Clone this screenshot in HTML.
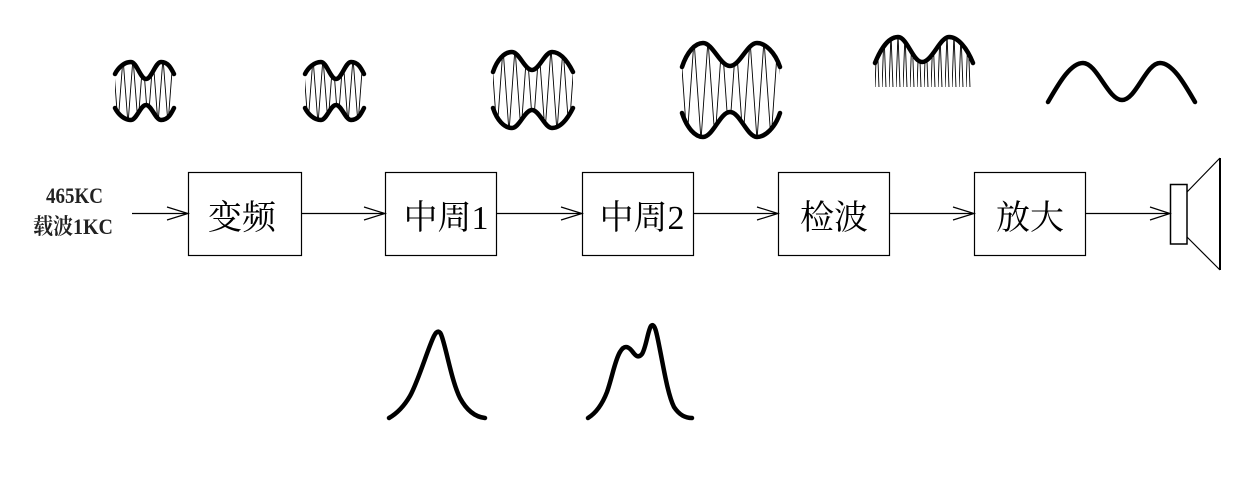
<!DOCTYPE html>
<html><head><meta charset="utf-8"><style>
html,body{margin:0;padding:0;background:#fff;}
svg{display:block;}
</style></head><body>
<svg width="1258" height="482" viewBox="0 0 1258 482" xmlns="http://www.w3.org/2000/svg">
<defs>
<pattern id="p1" patternUnits="userSpaceOnUse" x="113" y="58" width="10" height="66">
<path d="M0,0 L5,66 L10,0" fill="none" stroke="#000" stroke-width="0.9"/>
</pattern>
<pattern id="p3" patternUnits="userSpaceOnUse" x="491" y="48" width="12" height="84">
<path d="M0,0 L6,84 L12,0" fill="none" stroke="#000" stroke-width="0.9"/>
</pattern>
<pattern id="p4" patternUnits="userSpaceOnUse" x="680" y="40" width="14" height="100">
<path d="M0,0 L7,100 L14,0" fill="none" stroke="#000" stroke-width="0.9"/>
</pattern>
<pattern id="p5" patternUnits="userSpaceOnUse" x="875" y="34" width="7" height="54">
<path d="M0,54 L2,0 L4,54" fill="none" stroke="#000" stroke-width="0.9"/>
</pattern>
<clipPath id="c1"><path d="M115,74 C118,68 124,62 131,62 C136.5,62 140.5,79 146,79 C151.5,79 155.5,62 161,62 C168,62 171,68 174,74 L174,108 C171,114 168,120 161,120 C155.5,120 151.5,105 146,105 C140.5,105 136.5,120 131,120 C124,120 118,114 115,108 Z"/></clipPath>
<clipPath id="c2"><path transform="translate(190,0)" d="M115,74 C118,68 124,62 131,62 C136.5,62 140.5,79 146,79 C151.5,79 155.5,62 161,62 C168,62 171,68 174,74 L174,108 C171,114 168,120 161,120 C155.5,120 151.5,105 146,105 C140.5,105 136.5,120 131,120 C124,120 118,114 115,108 Z"/></clipPath>
<clipPath id="c3"><path d="M493,72 C497,60 504,52 512,52 C519.3,52 524.7,70 532,70 C539.3,70 544.7,52 552,52 C560,52 567,60 573,72 L573,108 C567,120 560,128 552,128 C544.7,128 539.3,110 532,110 C524.7,110 519.3,128 512,128 C504,128 497,120 493,108 Z"/></clipPath>
<clipPath id="c4"><path d="M682,67 C687,52 695,43 703,43 C712.8,43 720.2,66 730,66 C739.8,66 747.2,43 757,43 C765,43 775,52 780,67 L780,113 C775,128 765,137 757,137 C747.2,137 739.8,112 730,112 C720.2,112 712.8,137 703,137 C695,137 687,128 682,113 Z"/></clipPath>
<clipPath id="c5"><path d="M875,63 C881,48 889,37 898,37 C907,37 913,62 922,62 C932,62 940,37 949,37 C958,37 967,48 973,63 L973,87 L875,87 Z"/></clipPath>
</defs>

<!-- waveform 1 -->
<rect x="110" y="55" width="70" height="72" fill="url(#p1)" clip-path="url(#c1)"/>
<g fill="none" stroke="#000" stroke-width="4.5" stroke-linecap="round">
<path d="M115,74 C118,68 124,62 131,62 C136.5,62 140.5,79 146,79 C151.5,79 155.5,62 161,62 C168,62 171,68 174,74"/>
<path d="M115,108 C118,114 124,120 131,120 C136.5,120 140.5,105 146,105 C151.5,105 155.5,120 161,120 C168,120 171,114 174,108"/>
</g>
<!-- waveform 2 -->
<rect x="300" y="55" width="70" height="72" fill="url(#p1)" clip-path="url(#c2)"/>
<g fill="none" stroke="#000" stroke-width="4.5" stroke-linecap="round" transform="translate(190,0)">
<path d="M115,74 C118,68 124,62 131,62 C136.5,62 140.5,79 146,79 C151.5,79 155.5,62 161,62 C168,62 171,68 174,74"/>
<path d="M115,108 C118,114 124,120 131,120 C136.5,120 140.5,105 146,105 C151.5,105 155.5,120 161,120 C168,120 171,114 174,108"/>
</g>
<!-- waveform 3 -->
<rect x="488" y="45" width="90" height="90" fill="url(#p3)" clip-path="url(#c3)"/>
<g fill="none" stroke="#000" stroke-width="4.5" stroke-linecap="round">
<path d="M493,72 C497,60 504,52 512,52 C519.3,52 524.7,70 532,70 C539.3,70 544.7,52 552,52 C560,52 567,60 573,72"/>
<path d="M493,108 C497,120 504,128 512,128 C519.3,128 524.7,110 532,110 C539.3,110 544.7,128 552,128 C560,128 567,120 573,108"/>
</g>
<!-- waveform 4 -->
<rect x="678" y="38" width="106" height="104" fill="url(#p4)" clip-path="url(#c4)"/>
<g fill="none" stroke="#000" stroke-width="4.5" stroke-linecap="round">
<path d="M682,67 C687,52 695,43 703,43 C712.8,43 720.2,66 730,66 C739.8,66 747.2,43 757,43 C765,43 775,52 780,67"/>
<path d="M682,113 C687,128 695,137 703,137 C712.8,137 720.2,112 730,112 C739.8,112 747.2,137 757,137 C765,137 775,128 780,113"/>
</g>
<!-- waveform 5 -->
<rect x="872" y="32" width="104" height="56" fill="url(#p5)" clip-path="url(#c5)"/>
<path d="M875,63 C881,48 889,37 898,37 C907,37 913,62 922,62 C932,62 940,37 949,37 C958,37 967,48 973,63" fill="none" stroke="#000" stroke-width="4.5" stroke-linecap="round"/>
<!-- waveform 6 -->
<path d="M1048,102 C1058,85 1070,63 1083,63 C1097,63 1108,100 1122,100 C1136,100 1146,63 1160,63 C1173,63 1185,85 1195,102" fill="none" stroke="#000" stroke-width="4.5" stroke-linecap="round"/>

<!-- input label -->
<g font-family="'Liberation Serif', 'Noto Serif CJK SC', serif" font-weight="bold" font-size="22" fill="#222">
<text x="46" y="203" textLength="57" lengthAdjust="spacingAndGlyphs">465KC</text>
<text x="33" y="234" textLength="80" lengthAdjust="spacingAndGlyphs">载波1KC</text>
</g>

<!-- boxes -->
<g fill="#fff" stroke="#000" stroke-width="1.2">
<rect x="188.5" y="172.5" width="113" height="83"/>
<rect x="385.5" y="172.5" width="111" height="83"/>
<rect x="582.5" y="172.5" width="111" height="83"/>
<rect x="778.5" y="172.5" width="111" height="83"/>
<rect x="974.5" y="172.5" width="111" height="83"/>
</g>
<g font-family="'Liberation Serif', 'Noto Serif CJK SC', serif" font-size="34" fill="#000" text-anchor="middle">
<text x="242" y="229">变频</text>
<text x="446" y="229">中周1</text>
<text x="642" y="229">中周2</text>
<text x="834" y="229">检波</text>
<text x="1030" y="229">放大</text>
</g>

<!-- connectors -->
<g fill="none" stroke="#000" stroke-width="1.2">
<path d="M132,213.5 H188 M167,207 L188,213.5 L167,220"/>
<path d="M302,213.5 H385 M364,207 L385,213.5 L364,220"/>
<path d="M497,213.5 H582 M561,207 L582,213.5 L561,220"/>
<path d="M694,213.5 H778 M757,207 L778,213.5 L757,220"/>
<path d="M890,213.5 H974 M953,207 L974,213.5 L953,220"/>
<path d="M1086,213.5 H1170 M1150,207 L1170,213.5 L1150,220"/>
</g>

<!-- speaker -->
<g fill="none" stroke="#000">
<rect x="1170.5" y="184.5" width="16.5" height="59.5" stroke-width="1.5"/>
<path d="M1187,192 L1220,158 M1187,237 L1220,270" stroke-width="1.2"/>
<path d="M1220,158 V270" stroke-width="2"/>
</g>

<!-- bottom response curves -->
<g fill="none" stroke="#000" stroke-width="4.5" stroke-linecap="round" stroke-linejoin="round">
<path d="M389,418 C396,414 403,408 410,396 C418,382 428,348 434,336 C437,330 440,330 442,337 C447,352 452,382 460,398 C467,411 476,417 485,418"/>
<path d="M588,418 C596,413 602,405 607,392 C612,378 615,360 620,352 C624,345 628,346 632,351 C635,355 638,359 642,354 C646,348 648,330 651,326 C655,322 657,335 660,350 C664,370 668,395 674,407 C680,416 686,418 692,418"/>
</g>
</svg>
</body></html>
